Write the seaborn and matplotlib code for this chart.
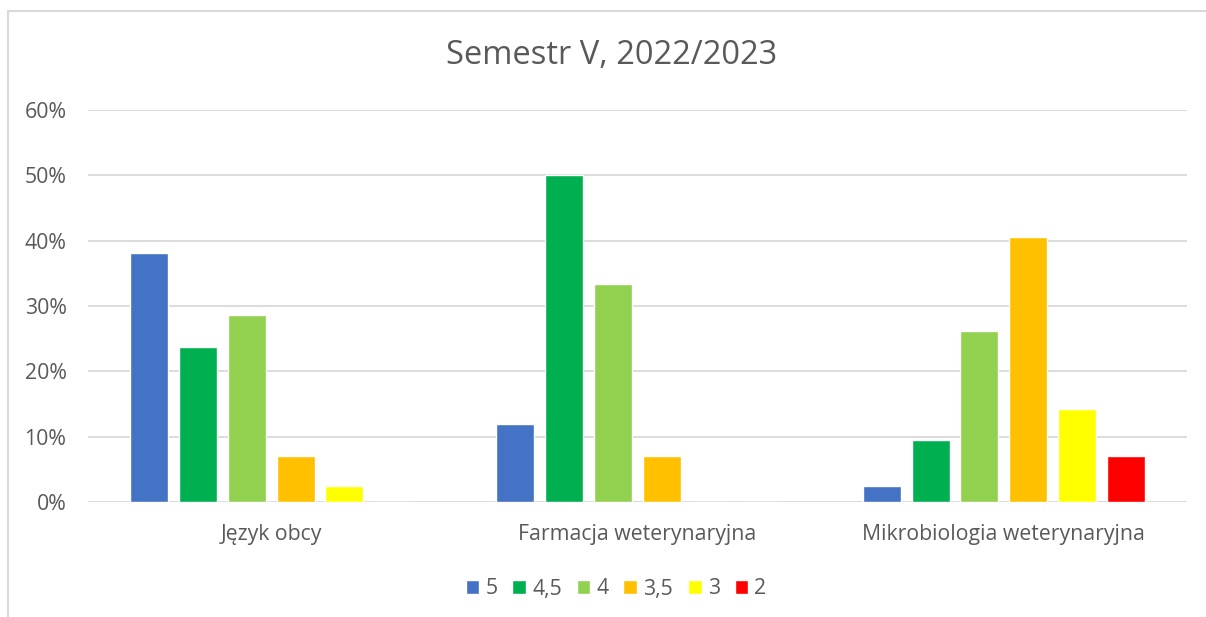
import matplotlib
matplotlib.use("Agg")
import matplotlib.pyplot as plt
from matplotlib.patches import Rectangle
from matplotlib.ticker import PercentFormatter
import pandas as pd
import seaborn as sns

# data
subjects = ["Język obcy", "Farmacja weterynaryjna", "Mikrobiologia weterynaryjna"]
grades = ["5", "4,5", "4", "3,5", "3", "2"]
grade_5 = [38.1, 11.9, 2.4]
grade_45 = [23.8, 50.0, 9.5]
grade_4 = [28.6, 33.3, 26.2]
grade_35 = [7.1, 7.1, 40.5]
grade_3 = [2.4, 0.0, 14.3]
grade_2 = [0.0, 0.0, 7.1]
colors = ["#4472C4", "#00B050", "#92D050", "#FFC000", "#FFFF00", "#FF0000"]

series = [grade_5, grade_45, grade_4, grade_35, grade_3, grade_2]
rows = []
for g, vals in zip(grades, series):
    for s, v in zip(subjects, vals):
        rows.append([s, g, v])
df = pd.DataFrame(rows, columns=["Przedmiot", "Ocena", "Udział"])

sns.set_theme(style="white")
plt.rcParams["font.family"] = ["Open Sans", "DejaVu Sans"]
text_color = "#595959"
grid_color = "#d9d9d9"

W, H = 1206, 617
fig = plt.figure(figsize=(W / 100, H / 100), dpi=100)
ax = fig.add_axes([88 / W, 1 - 502 / H, (1187 - 88) / W, (502 - 110) / H])

sns.barplot(data=df, x="Przedmiot", y="Udział", hue="Ocena", hue_order=grades,
            palette=colors, width=0.8, gap=0.22, saturation=1, ax=ax, legend=True)

ax.set_ylim(0, 60)
ax.set_yticks(range(0, 61, 10))
ax.yaxis.set_major_formatter(PercentFormatter(decimals=0))
ax.grid(axis="y", color=grid_color, lw=1.3)
ax.set_axisbelow(True)
for sp in ax.spines.values():
    sp.set_visible(False)
ax.set_xlabel("")
ax.set_ylabel("")
ax.tick_params(axis="y", colors=text_color, labelsize=15.3, length=0, pad=15.5)
ax.tick_params(axis="x", colors=text_color, labelsize=15.3, length=0, pad=16)

handles, labels = ax.get_legend_handles_labels()
ax.get_legend().remove()
fig.legend(handles, labels, loc="center", bbox_to_anchor=(616 / W, 1 - 589 / H),
           ncol=6, frameon=False, fontsize=15.3, labelcolor=text_color,
           handlelength=0.65, handleheight=0.65, handletextpad=0.28, columnspacing=0.7)

fig.suptitle("Semestr V, 2022/2023", x=612 / W, y=1 - 56 / H, va="center",
             fontsize=23.5, color=text_color)

# chart frame (only top and left edges visible in the crop)
fig.patches.append(Rectangle((8 / W, -0.5), 2, 0.5 + 1 - 11 / H, transform=fig.transFigure,
                             fill=False, edgecolor=grid_color, lw=1.5))

fig.savefig("out.png", dpi=100)
